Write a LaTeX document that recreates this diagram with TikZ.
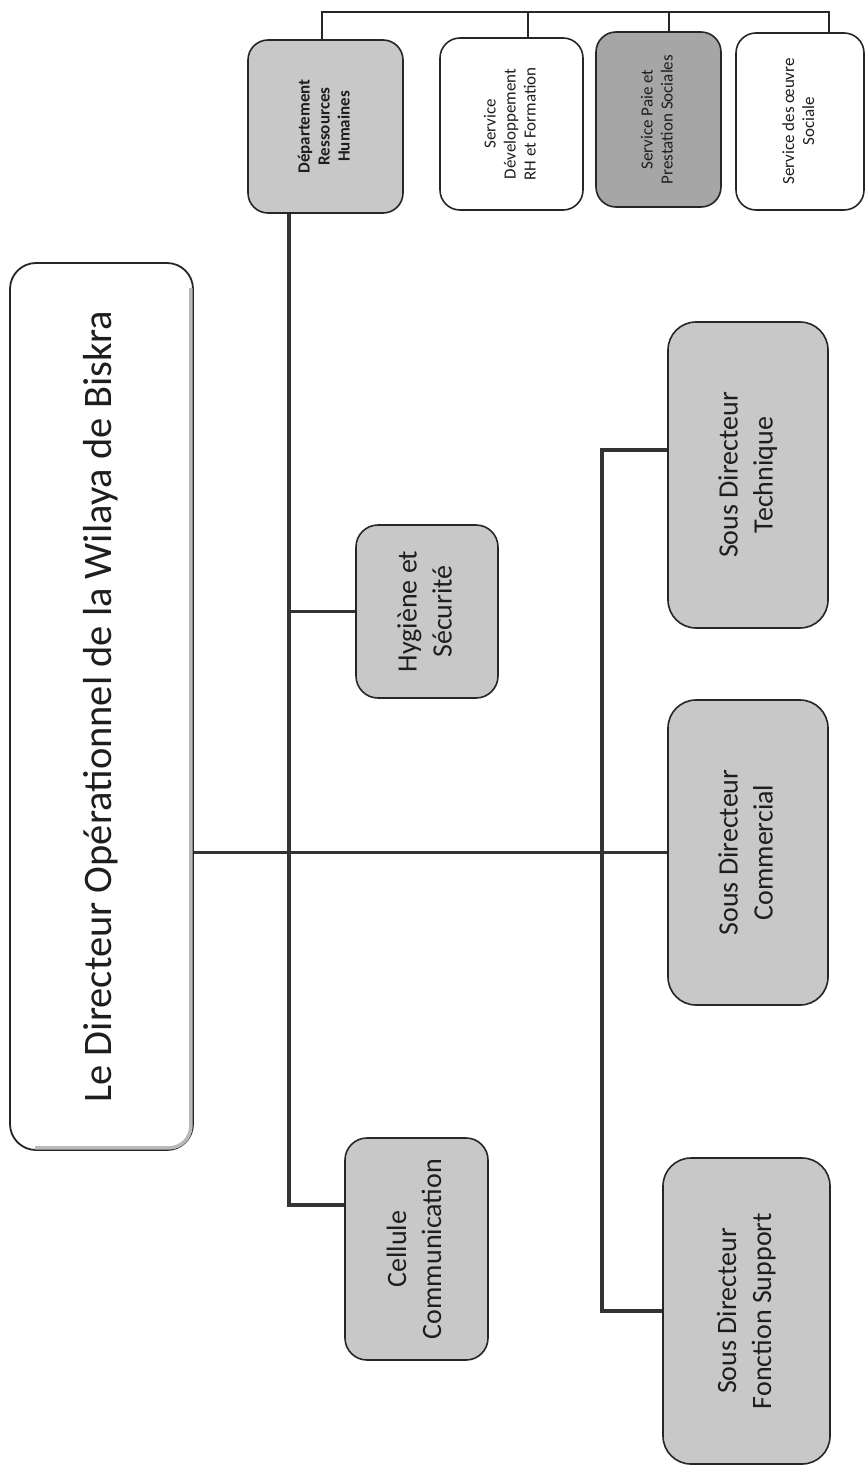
\documentclass[tikz,border=0pt]{standalone}
\usepackage{fontspec}
\setmainfont{Carlito}
\usepackage{graphicx}
\definecolor{boxfill}{HTML}{C8C8C8}
\definecolor{paiefill}{HTML}{A6A6A6}
\definecolor{ink}{HTML}{1E1E1E}
\definecolor{wire}{HTML}{333333}
% text set upright-rotated (reads bottom to top), centred lines
\newcommand{\uptext}[3]{\rotatebox{90}{\fontsize{#1}{#2}\selectfont\begin{tabular}{@{}c@{}}#3\end{tabular}}}
\tikzset{
  unit/.style={draw=black!85, line width=1.6pt, fill=boxfill, rounded corners=#1,
               inner sep=0pt, text=ink},
  unit/.default=24pt,
  link/.style={draw=wire, line width=3.8pt},
  rail/.style={draw=black!85, line width=1.3pt}
}
\begin{document}
\begin{tikzpicture}[x=1pt, y=-1pt]
\useasboundingbox[fill=white] (0,0) rectangle (866,1466);

% head of the directorate
\node[unit=26pt, fill=white, line width=1.8pt, minimum width=183pt, minimum height=887pt]
  (main) at (101.5,706.5) {\uptext{40.5}{48}{Le Directeur Opérationnel de la Wilaya de Biskra}};
\draw[gray!55, line width=3.5pt, rounded corners=22pt]
  ([xshift=-3pt,yshift=-26pt]main.north east) -- ([xshift=-3pt,yshift=3pt]main.south east)
  -- ([xshift=26pt,yshift=3pt]main.south west);

% human resources branch
\node[unit=20pt, minimum width=155pt, minimum height=173pt] (dep) at (325.5,126.5)
  {\uptext{17}{20}{\bfseries Département\\\bfseries Ressources\\\bfseries Humaines}};
\node[unit=20pt, fill=white, minimum width=143pt, minimum height=172pt] (dev) at (511.5,124)
  {\uptext{17}{20}{Service\\Développement\\RH et Formation}};
\node[unit=20pt, fill=paiefill, minimum width=125pt, minimum height=175pt] (paie) at (658.5,119.5)
  {\uptext{17}{20}{Service Paie et\\Prestation Sociales}};
\node[unit=20pt, fill=white, minimum width=128pt, minimum height=177pt] (oeu) at (800,121.5)
  {\uptext{17}{20}{Service des œuvre\\Sociale}};

% staff units
\node[unit=22pt, minimum width=142pt, minimum height=173pt] (hyg) at (427,611.5)
  {\uptext{28}{35}{Hygiène et\\Sécurité}};
\node[unit=22pt, minimum width=143pt, minimum height=222pt] (cc) at (416.5,1249)
  {\uptext{28}{35}{Cellule\\Communication}};

% sub-directorates
\node[unit=28pt, minimum width=160pt, minimum height=306pt] (tech) at (748,475)
  {\uptext{28}{35}{Sous Directeur\\Technique}};
\node[unit=28pt, minimum width=160pt, minimum height=305pt] (comm) at (748,852.5)
  {\uptext{28}{35}{Sous Directeur\\Commercial}};
\node[unit=28pt, minimum width=167pt, minimum height=306pt] (sup) at (746.5,1311)
  {\uptext{28}{35}{Sous Directeur\\Fonction Support}};

% routing points
\coordinate (depout) at ([xshift=-36.5pt]dep.south);
\coordinate (bus) at (602,0);
\coordinate (top) at (0,12);

% main trunk to the commercial sub-directorate
\draw[link] (main.east |- comm.west) -- (comm.west);
% staff bus from human resources down to communication
\draw[link] (depout) |- ([yshift=44pt]cc.west);
\draw[link] (hyg.west -| depout) -- (hyg.west);
% sub-directorate bus
\draw[link] ([yshift=25pt]tech.west) -- ([yshift=25pt]tech.west -| bus)
  -- (sup.west -| bus) -- (sup.west);

% services attached to human resources
\draw[rail] ([xshift=-3.5pt]dep.north) |- ([xshift=29pt]oeu.north |- top) -- ([xshift=29pt]oeu.north);
\draw[rail] ([xshift=16.5pt]dev.north) -- ([xshift=16.5pt]dev.north |- top);
\draw[rail] ([xshift=10.5pt]paie.north) -- ([xshift=10.5pt]paie.north |- top);
\end{tikzpicture}
\end{document}
